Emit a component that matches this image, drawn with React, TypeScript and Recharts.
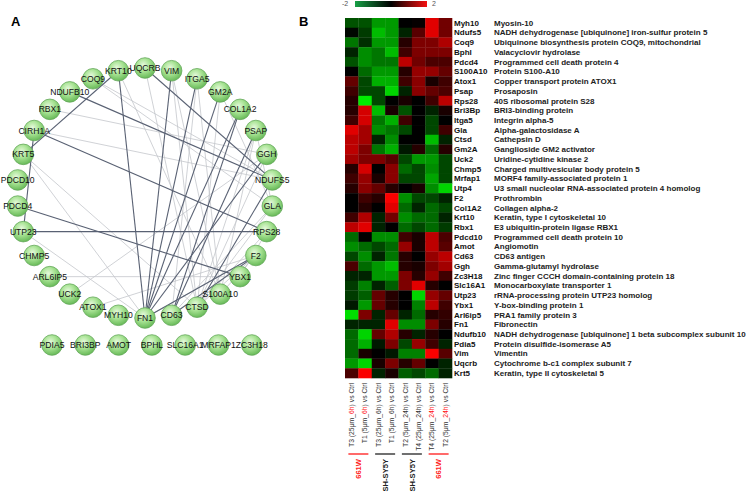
import React from "react"
import { ScatterChart, Scatter, XAxis, YAxis } from "recharts"

// ---- panel A: interaction network ----
const ringGenes = [
  "UQCRB", "VIM", "ITGA5", "GM2A", "COL1A2", "PSAP", "GGH", "NDUFS5", "GLA", "RPS28",
  "F2", "YBX1", "S100A10", "CTSD", "CD63", "FN1", "MYH10", "ATOX1", "UCK2", "ARL6IP5",
  "CHMP5", "UTP23", "PDCD4", "PDCD10", "KRT5", "CIRH1A", "RBX1", "NDUFB10", "COQ9", "KRT10",
]
const looseGenes = ["PDIA5", "BRI3BP", "AMOT", "BPHL", "SLC16A1", "MRFAP1", "ZC3H18"]

const strongLinks = [
  ["KRT5", "KRT10"], ["CIRH1A", "UTP23"], ["CIRH1A", "RPS28"], ["NDUFB10", "NDUFS5"],
  ["UQCRB", "NDUFS5"], ["UTP23", "RPS28"], ["PDCD4", "YBX1"], ["FN1", "KRT10"],
  ["FN1", "VIM"], ["FN1", "ITGA5"], ["FN1", "COL1A2"], ["FN1", "GM2A"], ["FN1", "F2"],
  ["PSAP", "CD63"], ["COL1A2", "CD63"], ["GGH", "FN1"], ["F2", "CD63"], ["NDUFS5", "CTSD"],
]
const weakLinks = [
  ["KRT5", "FN1"], ["KRT5", "CTSD"], ["UTP23", "FN1"], ["ARL6IP5", "YBX1"], ["UCK2", "GGH"],
  ["ATOX1", "F2"], ["CIRH1A", "NDUFS5"], ["RBX1", "GGH"], ["COQ9", "GLA"], ["COQ9", "NDUFS5"],
  ["UQCRB", "CTSD"], ["VIM", "S100A10"], ["VIM", "CTSD"], ["ITGA5", "S100A10"], ["GM2A", "CTSD"],
  ["GM2A", "GLA"], ["PSAP", "CTSD"], ["PSAP", "GLA"], ["GGH", "CTSD"], ["GLA", "CTSD"],
  ["F2", "CTSD"], ["F2", "S100A10"], ["RPS28", "YBX1"], ["KRT10", "S100A10"], ["ITGA5", "CD63"],
  ["GLA", "CD63"], ["PSAP", "S100A10"], ["RPS28", "CTSD"], ["F2", "FN1"],
]

// ---- panel B: heatmap ----
const geneSymbols = [
  "Myh10", "Ndufs5", "Coq9", "Bphl", "Pdcd4", "S100A10", "Atox1", "Psap", "Rps28", "Bri3Bp",
  "Itga5", "Gla", "Ctsd", "Gm2A", "Uck2", "Chmp5", "Mrfap1", "Utp4", "F2", "Col1A2",
  "Krt10", "Rbx1", "Pdcd10", "Amot", "Cd63", "Ggh", "Zc3H18", "Slc16A1", "Utp23", "Ybx1",
  "Arl6ip5", "Fn1", "Ndufb10", "Pdia5", "Vim", "Uqcrb", "Krt5",
]
const proteinNames = [
  "Myosin-10",
  "NADH dehydrogenase [ubiquinone] iron-sulfur protein 5",
  "Ubiquinone biosynthesis protein COQ9, mitochondrial",
  "Valacyclovir hydrolase",
  "Programmed cell death protein 4",
  "Protein S100-A10",
  "Copper transport protein ATOX1",
  "Prosaposin",
  "40S ribosomal protein S28",
  "BRI3-binding protein",
  "Integrin alpha-5",
  "Alpha-galactosidase A",
  "Cathepsin D",
  "Ganglioside GM2 activator",
  "Uridine-cytidine kinase 2",
  "Charged multivesicular body protein 5",
  "MORF4 family-associated protein 1",
  "U3 small nucleolar RNA-associated protein 4 homolog",
  "Prothrombin",
  "Collagen alpha-2",
  "Keratin, type I cytoskeletal 10",
  "E3 ubiquitin-protein ligase RBX1",
  "Programmed cell death protein 10",
  "Angiomotin",
  "CD63 antigen",
  "Gamma-glutamyl hydrolase",
  "Zinc finger CCCH domain-containing protein 18",
  "Monocarboxylate transporter 1",
  "rRNA-processing protein UTP23 homolog",
  "Y-box-binding protein 1",
  "PRA1 family protein 3",
  "Fibronectin",
  "NADH dehydrogenase [ubiquinone] 1 beta subcomplex subunit 10",
  "Protein disulfide-isomerase A5",
  "Vimentin",
  "Cytochrome b-c1 complex subunit 7",
  "Keratin, type II cytoskeletal 5",
]
// log fold change, one row per gene, columns in plotted order
const foldChange = [
  [-0.7, -0.7, -1.3, -1.3, 0, 0.05, 1.8, 0.9],
  [-0.05, -0.5, -1.6, -1.3, -0.3, 0.7, 1.8, 0.9],
  [-1.0, -0.4, -1.3, -1.3, 0.3, 1.0, 1.0, 1.4],
  [-0.3, -1.2, -1.0, -1.6, 0.5, 1.0, 1.0, 1.0],
  [-0.7, -1.2, -1.0, -1.0, 1.5, 0.9, 0.6, 0.6],
  [0, -0.9, -1.3, -1.3, 0.3, 1.2, 1.2, 0.8],
  [0.8, -0.6, -1.5, -1.5, 0.5, 1.1, 0.2, 0.5],
  [0.5, -0.6, -0.6, -1.8, -0.3, 1.1, 0.8, 0.6],
  [0.3, -2, -0.6, 0, 0.2, 0, 0.5, 1.5],
  [0.3, 1.7, -1.6, 0.2, -0.7, 0, -0.3, 0.2],
  [0.5, 1.7, -1.0, -1.5, 0.5, 0, -0.6, 0],
  [1.8, 1.3, -1.2, -1.0, -0.6, 0, -0.6, 0.5],
  [1.5, 1.3, -0.3, -1.2, 0, 0, -1.6, -0.3],
  [1.5, 1.0, -1.0, -1.5, -0.2, 0.3, -0.9, 0.3],
  [1.3, 1.0, 1.0, 0.7, -0.6, -1.3, -1.3, -0.6],
  [0.3, 1.7, 0, 1.1, -0.9, -0.6, -1.2, -0.6],
  [0.5, 1.2, 0.2, 1.1, -0.6, -0.6, -1.4, -0.6],
  [0.3, 1.1, 0.8, 0.3, 0, 0.2, -1.2, -1.8],
  [0, 0.5, 0.3, 2, -1.2, -0.6, -0.6, -0.3],
  [0, 0.3, 0, 1.8, -0.9, -0.3, -0.9, -0.6],
  [0.5, 1.4, -0.3, 0.9, -1.2, -0.9, -0.9, -0.3],
  [1.5, 1.8, -0.3, 0, -0.9, -0.6, -0.9, -0.5],
  [-0.9, 0, -1.2, -1.2, 0.5, 0.2, 1.5, 0.6],
  [-1.2, -0.9, -0.6, -0.9, 1.2, 0.2, 1.5, 0.7],
  [-0.6, -1.2, -0.3, -1.0, 0.3, 0, 1.2, 1.5],
  [0.6, -0.9, -1.3, -1.6, 0.3, 0.2, 1.0, 1.3],
  [-0.3, -0.3, -1.3, -1.3, 1.0, 0.3, 1.2, 0.5],
  [-0.5, -1.1, -0.3, -0.8, 1.0, 1.8, 0.3, 0],
  [-0.5, -0.8, 0.8, 0.3, 0, -1.8, 1.2, 0.8],
  [-0.2, -1.3, 0.8, 0.3, 0, -1.1, 1.5, 0.5],
  [-1.9, 1.0, -0.3, 0.8, -0.3, -0.9, 0.3, 0.4],
  [-0.3, -0.3, -0.3, 1.8, -1.2, -1.2, 1.0, 0.3],
  [-0.9, -1.8, 0.8, 1.4, 0.3, -0.3, 0.3, 0],
  [-0.9, -1.5, -0.2, 1.0, -0.6, 1.2, 0.5, -0.3],
  [-0.9, 0.2, 0, -0.2, -1.1, -1.1, 2, 0.7],
  [-1.3, -1.8, 0.2, 1.0, 0.3, 0.8, 0, -0.3],
  [0.6, 2, -0.3, 0.2, -0.8, -0.6, -0.9, -0.3],
]
const treatments = ["T3 (25μm_", "T1 (5μm_", "T3 (25μm_", "T1 (5μm_", "T2 (5μm_", "T4 (25μm_", "T4 (25μm_", "T2 (5μm_"]
const timepoints = ["6h", "6h", "6h", "6h", "24h", "24h", "24h", "24h"]
const timeMarked = [true, true, false, false, false, false, true, true]
// one cell line per pair of columns
const cellLines = ["661W", "SH-SY5Y", "SH-SY5Y", "661W"]
const cellLineRed = [true, false, false, true]

const FONT = "'Liberation Sans', Arial, sans-serif"
const HM_W = 107
const HM_H = 360
const CELL_W = HM_W / timepoints.length
const CELL_H = HM_H / geneSymbols.length

function heatColor(v: number) {
  const t = Math.min(1, Math.abs(v) / 2)
  return v < 0 ? `rgb(0,${Math.round(235 * t)},0)` : `rgb(${Math.round(250 * t)},0,0)`
}

// circular layout for the connected nodes, one row below for the loose ones
const RING = { cx: 145, cy: 193, rx: 128, ry: 125 }
const nodePos: Record<string, { x: number; y: number }> = {}
ringGenes.forEach((g, i) => {
  const a = ((90 - (i * 360) / ringGenes.length) * Math.PI) / 180
  nodePos[g] = { x: RING.cx + RING.rx * Math.cos(a), y: RING.cy - RING.ry * Math.sin(a) }
})
looseGenes.forEach((g, i) => {
  nodePos[g] = { x: 52 + i * 33.3, y: 345 }
})
const nodes = [...ringGenes, ...looseGenes].map((g) => ({ name: g, ...nodePos[g] }))

const cells = foldChange.flatMap((row, r) =>
  row.map((v, c) => ({ col: c + 0.5, row: r + 0.5, v }))
)

const NodeShape = (props: any) => {
  const { cx, cy, payload } = props
  return (
    <g>
      <circle cx={cx} cy={cy} r={10.3} fill="url(#nodeGrad)" stroke="#64a85a" strokeWidth={0.8} />
      <text x={cx} y={cy} dy="0.35em" textAnchor="middle" fontSize={8.6} fontFamily={FONT} fill="#111">
        {payload.name}
      </text>
    </g>
  )
}

const HeatCell = (props: any) => {
  const { cx, cy, payload } = props
  return (
    <rect
      x={cx - CELL_W / 2}
      y={cy - CELL_H / 2}
      width={CELL_W + 0.3}
      height={CELL_H + 0.3}
      fill={heatColor(payload.v)}
    />
  )
}

const GeneTick = (props: any) => {
  const { x, y, payload } = props
  const i = Math.floor(payload.value)
  return (
    <g fontFamily={FONT} fontSize={8} fontWeight="bold">
      <text x={x} y={y} dy="0.35em" fill="#111">{geneSymbols[i]}</text>
      <text x={x + 40} y={y} dy="0.35em" fill="#222">{proteinNames[i]}</text>
    </g>
  )
}

const ConditionTick = (props: any) => {
  const { x, y, payload } = props
  const i = Math.floor(payload.value)
  const g = Math.floor(i / 2)
  const groupColor = cellLineRed[g] ? "#ff1a1a" : "#222"
  const gx = x + CELL_W / 2
  return (
    <g fontFamily={FONT}>
      <text
        transform={`translate(${x},${y}) rotate(-90)`}
        textAnchor="end"
        dy="0.35em"
        fontSize={6.8}
        fill="#333"
      >
        {treatments[i]}
        <tspan fill={timeMarked[i] ? "#ff1010" : "#333"}>{timepoints[i]}</tspan>
        {") vs Ctrl"}
      </text>
      {i % 2 === 0 && (
        <g>
          <line x1={gx - 10} x2={gx + 10} y1={y + 71} y2={y + 71} stroke={groupColor} strokeWidth={1.3} />
          <text
            transform={`translate(${gx},${y + 76}) rotate(-90)`}
            textAnchor="end"
            dy="0.35em"
            fontSize={7.6}
            fontWeight="bold"
            fill={groupColor}
          >
            {cellLines[g]}
          </text>
        </g>
      )}
    </g>
  )
}

export default function App() {
  return (
    <div style={{ position: "absolute", left: 0, top: 0, width: 748, height: 495, background: "#fff", fontFamily: FONT, overflow: "hidden" }}>
      <svg width={0} height={0} style={{ position: "absolute" }}>
        <defs>
          <radialGradient id="nodeGrad" cx="42%" cy="35%" r="70%">
            <stop offset="0%" stopColor="#e6f9dc" />
            <stop offset="45%" stopColor="#a8e394" />
            <stop offset="100%" stopColor="#5fb450" />
          </radialGradient>
        </defs>
      </svg>

      <div style={{ position: "absolute", left: 11, top: 14, fontSize: 13, fontWeight: "bold", lineHeight: "16px" }}>A</div>
      <div style={{ position: "absolute", left: 299, top: 14, fontSize: 13, fontWeight: "bold", lineHeight: "16px" }}>B</div>

      {/* colour key */}
      <div style={{ position: "absolute", left: 342, top: -1, fontSize: 7, color: "#555", lineHeight: "10px" }}>-2</div>
      <div style={{ position: "absolute", left: 355, top: 1, width: 72, height: 6, background: "linear-gradient(to right, #17a046, #000 50%, #f41010)" }} />
      <div style={{ position: "absolute", left: 432, top: -1, fontSize: 7, color: "#555", lineHeight: "10px" }}>2</div>

      <div style={{ position: "absolute", left: 0, top: 0 }}>
        <ScatterChart width={290} height={370} margin={{ top: 0, right: 0, bottom: 0, left: 0 }}>
          <XAxis type="number" dataKey="x" domain={[0, 290]} hide />
          <YAxis type="number" dataKey="y" domain={[0, 370]} reversed hide />
          {weakLinks.map(([a, b], i) => (
            <Scatter
              key={`w${i}`}
              data={[nodePos[a], nodePos[b]]}
              line={{ stroke: "#c4c6cc", strokeWidth: 0.8 }}
              shape={() => <g />}
              isAnimationActive={false}
            />
          ))}
          {strongLinks.map(([a, b], i) => (
            <Scatter
              key={`s${i}`}
              data={[nodePos[a], nodePos[b]]}
              line={{ stroke: "#596173", strokeWidth: 1.1 }}
              shape={() => <g />}
              isAnimationActive={false}
            />
          ))}
          <Scatter data={nodes} shape={NodeShape} isAnimationActive={false} />
        </ScatterChart>
      </div>

      <div style={{ position: "absolute", left: 345, top: 18 }}>
        <ScatterChart width={403} height={477} margin={{ top: 0, right: 0, bottom: 0, left: 0 }}>
          <XAxis
            type="number"
            dataKey="col"
            domain={[0, timepoints.length]}
            ticks={timepoints.map((_, i) => i + 0.5)}
            interval={0}
            height={117}
            axisLine={false}
            tickLine={false}
            tickSize={0}
            tickMargin={5}
            tick={ConditionTick}
          />
          <YAxis
            type="number"
            dataKey="row"
            orientation="right"
            domain={[0, geneSymbols.length]}
            ticks={geneSymbols.map((_, i) => i + 0.5)}
            interval={0}
            reversed
            width={296}
            axisLine={false}
            tickLine={false}
            tickSize={0}
            tickMargin={2}
            tick={GeneTick}
          />
          <Scatter data={cells} shape={HeatCell} isAnimationActive={false} />
        </ScatterChart>
      </div>
    </div>
  )
}
